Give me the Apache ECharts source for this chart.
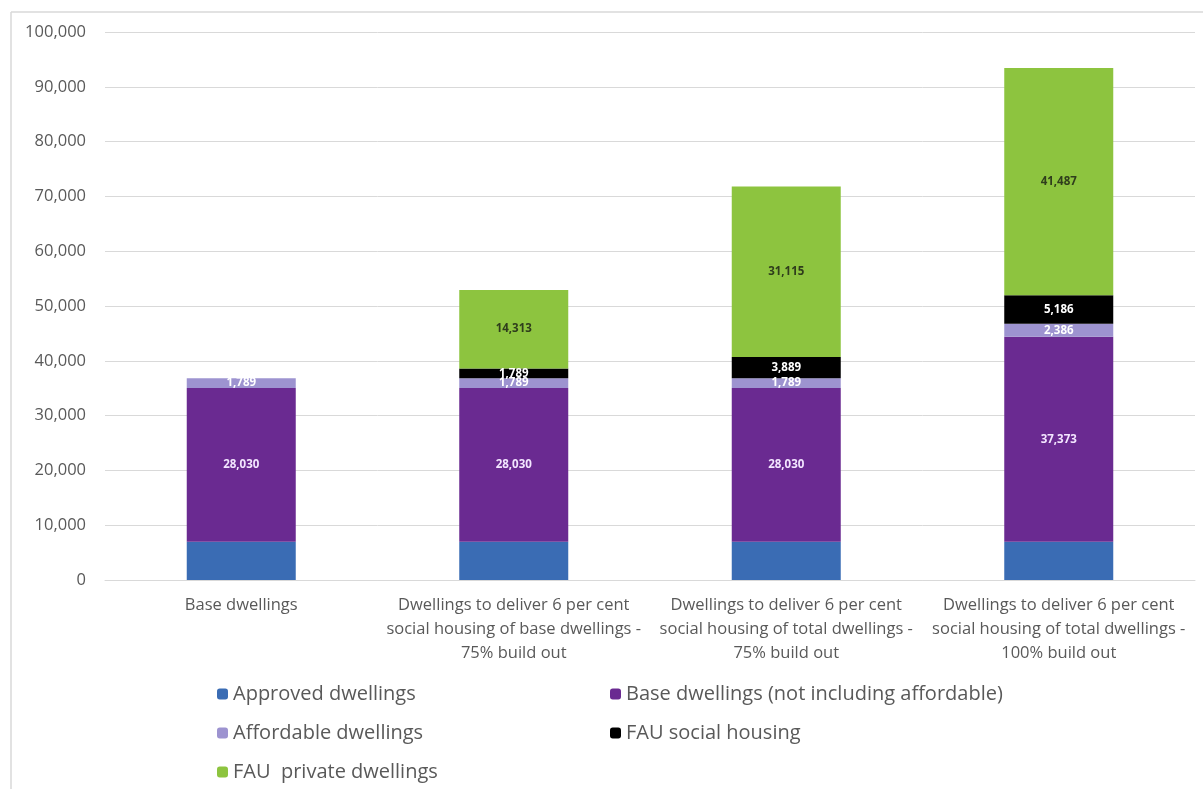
<!DOCTYPE html>
<html>
<head>
<meta charset="utf-8">
<script src="https://cdn.jsdelivr.net/npm/echarts@6/dist/echarts.min.js"></script>
<style>
html,body{margin:0;padding:0;background:#fff;}
#c{width:1203px;height:789px;}
</style>
</head>
<body>
<div id="c"></div>
<script>
const categories = [
  "Base dwellings",
  "Dwellings to deliver 6 per cent\nsocial housing of base dwellings -\n75% build out",
  "Dwellings to deliver 6 per cent\nsocial housing of total dwellings -\n75% build out",
  "Dwellings to deliver 6 per cent\nsocial housing of total dwellings -\n100% build out"
];
const approved = [7000, 7000, 7000, 7000];
const baseDw = [28030, 28030, 28030, 37373];
const affordable = [1789, 1789, 1789, 2386];
const fauSocial = [null, 1789, 3889, 5186];
const fauPrivate = [null, 14313, 31115, 41487];
const yTicks = [0, 10000, 20000, 30000, 40000, 50000, 60000, 70000, 80000, 90000, 100000];

const fontFam = '"Open Sans",sans-serif';
const fmt = v => v.toLocaleString('en-US');

function lbl(color){
  return {show:true, position:'inside', fontSize:11.5, fontWeight:'bold', color:color,
    fontFamily:fontFam, formatter:p => p.value==null ? '' : fmt(p.value)};
}

const chart = echarts.init(document.getElementById('c'));
chart.setOption({
  animation:false,
  backgroundColor:'#fff',
  graphic:[
    {type:'line', shape:{x1:11,y1:12,x2:1203,y2:12}, style:{stroke:'#d9d9d9',lineWidth:1.5}},
    {type:'line', shape:{x1:11,y1:12,x2:11,y2:789}, style:{stroke:'#d9d9d9',lineWidth:1.5}}
  ],
  grid:{left:105, right:8, top:32, bottom:209},
  xAxis:{
    type:'category', data:categories,
    axisLine:{lineStyle:{color:'#d9d9d9'}},
    axisTick:{show:false},
    axisLabel:{color:'#595959', fontSize:16.5, fontFamily:fontFam, lineHeight:24, margin:13, interval:0}
  },
  yAxis:{
    type:'value', min:yTicks[0], max:yTicks[yTicks.length-1], interval:10000,
    axisLine:{show:false}, axisTick:{show:false},
    splitLine:{lineStyle:{color:'#d9d9d9', width:1}},
    axisLabel:{color:'#595959', fontSize:16.5, fontFamily:fontFam, margin:19, formatter:v=>fmt(v)}
  },
  legend:[
    {left:212, top:679, orient:'vertical', itemGap:19, itemWidth:11, itemHeight:11,
     textStyle:{color:'#595959', fontSize:20, fontFamily:fontFam},
     data:['Approved dwellings','Affordable dwellings','FAU  private dwellings']},
    {left:605, top:679, orient:'vertical', itemGap:19, itemWidth:11, itemHeight:11,
     textStyle:{color:'#595959', fontSize:20, fontFamily:fontFam},
     data:['Base dwellings (not including affordable)','FAU social housing']}
  ],
  series:[
    {name:'Approved dwellings', type:'bar', stack:'s', barWidth:'40%', data:approved, itemStyle:{color:'#3A6CB4'}},
    {name:'Base dwellings (not including affordable)', type:'bar', stack:'s', data:baseDw, itemStyle:{color:'#6A2A91'}, label:lbl('#f3e6ff')},
    {name:'Affordable dwellings', type:'bar', stack:'s', data:affordable, itemStyle:{color:'#9D93D0'}, label:lbl('#ffffff')},
    {name:'FAU social housing', type:'bar', stack:'s', data:fauSocial, itemStyle:{color:'#000000'}, label:lbl('#ffffff')},
    {name:'FAU  private dwellings', type:'bar', stack:'s', data:fauPrivate, itemStyle:{color:'#8DC43F'}, label:lbl('#2f3d1c')}
  ]
});
</script>
</body>
</html>
